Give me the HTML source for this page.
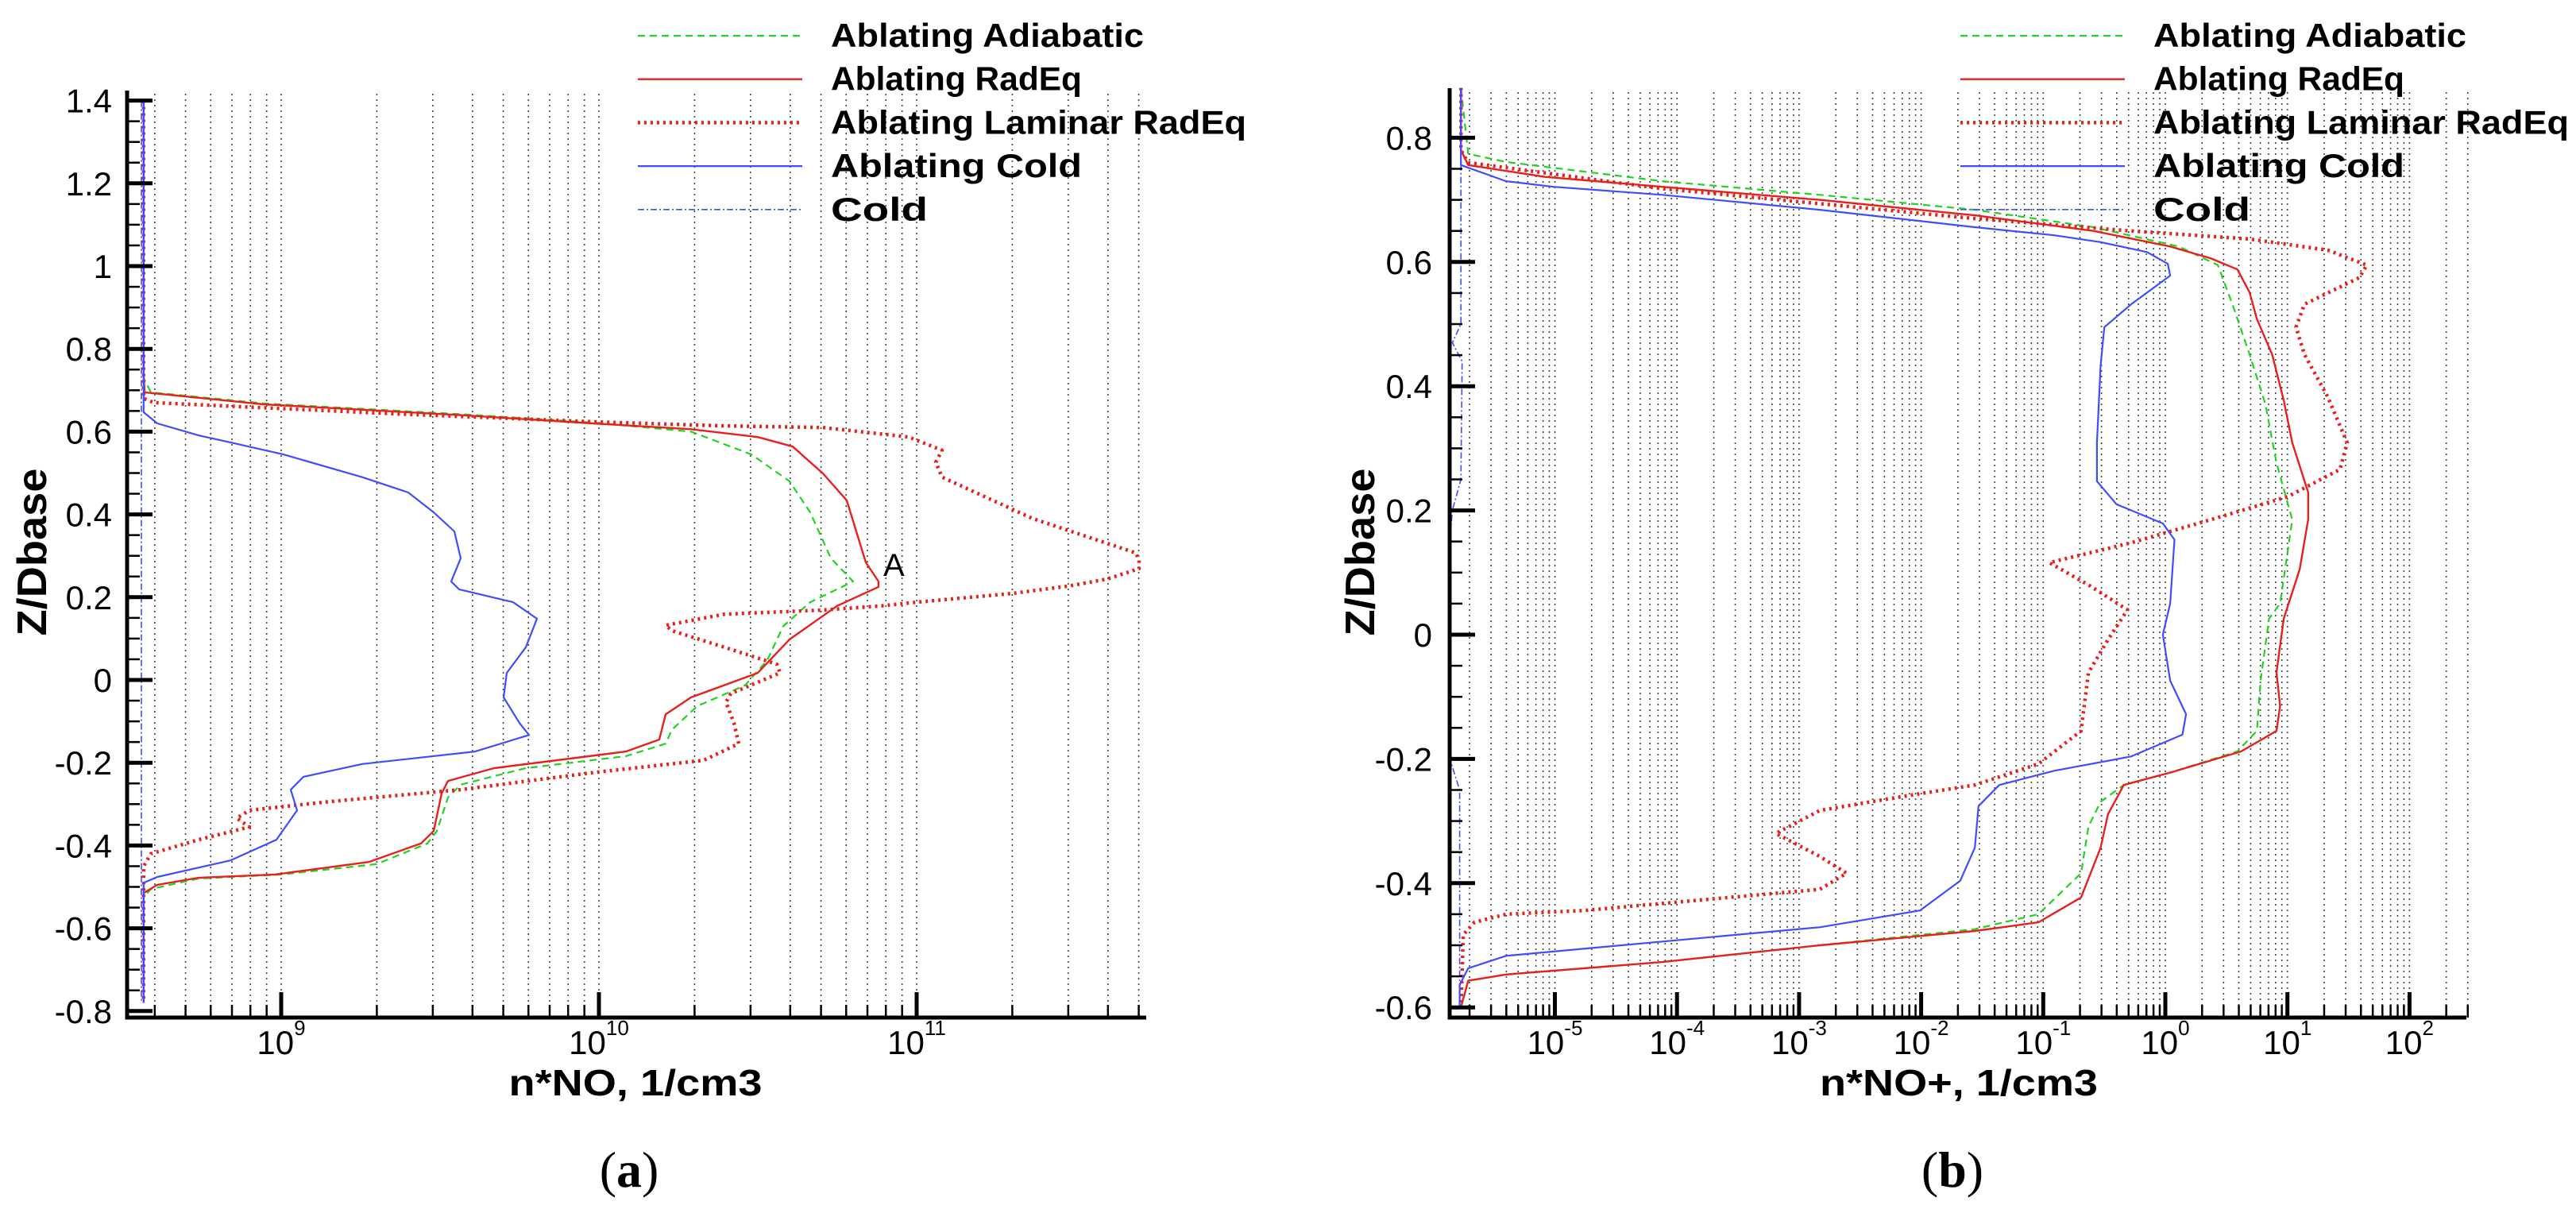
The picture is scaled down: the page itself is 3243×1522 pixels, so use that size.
<!DOCTYPE html>
<html><head><meta charset="utf-8"><style>
html,body{margin:0;padding:0;background:#fff;}
svg{display:block;}
text{font-family:"Liberation Sans",sans-serif;}
</style></head><body>
<svg id="fig" width="3243" height="1522" viewBox="0 0 3243 1522" xmlns="http://www.w3.org/2000/svg">
<rect width="3243" height="1522" fill="#fff"/>
</svg>
<script>
// ---------- Panel (a): n*NO, values stored as log10(n) ----------
const aZAdiabatic = [1.40,0.73,0.695,0.668,0.642,0.622,0.60,0.545,0.48,0.405,0.294,0.238,0.188,0.13,0.048,-0.013,-0.063,-0.12,-0.154,-0.184,-0.213,-0.253,-0.284,-0.365,-0.395,-0.445,-0.47,-0.48,-0.505,-0.526,-0.78];
const aLogAdiabatic = [8.567,8.567,8.59,8.95,9.57,9.98,10.29,10.48,10.60,10.665,10.73,10.80,10.665,10.58,10.53,10.46,10.31,10.23,10.21,10.085,9.77,9.565,9.525,9.49,9.46,9.30,9.0,8.74,8.59,8.567,8.567];
const aZRadEq = [1.40,0.74,0.695,0.666,0.64,0.62,0.606,0.587,0.564,0.499,0.434,0.359,0.284,0.238,0.225,0.179,0.098,0.017,-0.042,-0.083,-0.144,-0.173,-0.213,-0.244,-0.274,-0.365,-0.395,-0.44,-0.47,-0.478,-0.495,-0.515,-0.78];
const aLogRadEq = [8.567,8.567,8.57,8.945,9.565,9.98,10.29,10.50,10.61,10.705,10.78,10.81,10.84,10.88,10.88,10.75,10.60,10.50,10.29,10.21,10.19,10.085,9.67,9.525,9.505,9.48,9.44,9.275,8.98,8.74,8.61,8.567,8.567];
const aZLaminar = [1.40,0.68,0.67,0.643,0.624,0.614,0.61,0.587,0.555,0.526,0.49,0.39,0.307,0.29,0.269,0.244,0.227,0.209,0.188,0.179,0.169,0.159,0.132,0.119,0.079,0.038,0.017,-0.033,-0.054,-0.104,-0.154,-0.194,-0.224,-0.265,-0.294,-0.315,-0.334,-0.355,-0.386,-0.42,-0.45,-0.78];
const aLogLaminar = [8.567,8.567,8.60,9.36,9.98,10.395,10.705,10.975,11.08,11.06,11.08,11.365,11.69,11.70,11.70,11.60,11.48,11.30,11.0,10.89,10.705,10.395,10.21,10.23,10.395,10.56,10.57,10.415,10.40,10.425,10.44,10.33,9.98,9.565,9.15,8.90,8.86,8.90,8.74,8.59,8.567,8.567];
const aZAblCold = [1.40,0.647,0.62,0.591,0.574,0.545,0.49,0.453,0.405,0.359,0.294,0.238,0.219,0.188,0.148,0.079,0.017,-0.042,-0.104,-0.133,-0.173,-0.203,-0.234,-0.265,-0.315,-0.386,-0.436,-0.476,-0.49,-0.78];
const aLogAblCold = [8.567,8.567,8.61,8.74,8.84,9.007,9.255,9.40,9.48,9.545,9.565,9.535,9.56,9.73,9.805,9.77,9.71,9.70,9.75,9.78,9.61,9.255,9.07,9.03,9.05,8.985,8.84,8.61,8.567,8.567];
const aZCold = [1.40,-0.78];
const aLogCold = [8.56,8.56];
const aYTicks = [-0.8,-0.6,-0.4,-0.2,0,0.2,0.4,0.6,0.8,1,1.2,1.4];
const aXDecades = [9,10,11];

// ---------- Panel (b): n*NO+, values stored as log10(n) ----------
const bZAdiabatic = [0.88,0.774,0.761,0.73,0.708,0.684,0.656,0.625,0.595,0.526,0.451,0.371,0.277,0.185,0.05,0.026,-0.074,-0.155,-0.188,-0.222,-0.242,-0.269,-0.309,-0.384,-0.45,-0.474,-0.5,-0.527,-0.547,-0.557,-0.6];
const bLogAdiabatic = [-5.77,-5.71,-5.40,-4.12,-2.83,-1.56,-0.59,0.11,0.43,0.56,0.69,0.82,0.91,1.04,0.94,0.85,0.78,0.75,0.59,0.04,-0.34,-0.53,-0.63,-0.69,-1.04,-1.56,-2.83,-4.12,-5.40,-5.71,-5.77];
const bZRadEq = [0.88,0.78,0.756,0.737,0.721,0.70,0.675,0.65,0.625,0.606,0.588,0.551,0.508,0.451,0.377,0.309,0.229,0.185,0.105,0.026,-0.061,-0.115,-0.155,-0.188,-0.222,-0.242,-0.289,-0.343,-0.423,-0.463,-0.477,-0.5,-0.527,-0.547,-0.557,-0.6];
const bLogRadEq = [-5.77,-5.77,-5.71,-5.08,-4.12,-2.83,-1.56,-0.59,0.04,0.37,0.59,0.69,0.75,0.875,0.97,1.04,1.17,1.17,1.10,0.97,0.91,0.94,0.91,0.62,0.04,-0.34,-0.47,-0.53,-0.69,-1.04,-1.56,-2.83,-4.12,-5.40,-5.71,-5.77];
const bZLaminar = [0.88,0.78,0.76,0.718,0.67,0.65,0.637,0.619,0.595,0.575,0.532,0.495,0.451,0.383,0.309,0.266,0.222,0.185,0.148,0.116,0.079,0.04,-0.008,-0.061,-0.155,-0.208,-0.242,-0.262,-0.283,-0.32,-0.357,-0.384,-0.41,-0.427,-0.444,-0.45,-0.463,-0.483,-0.6];
const bLogLaminar = [-5.77,-5.77,-5.71,-4.12,-1.56,-0.28,0.69,1.33,1.65,1.59,1.14,1.07,1.14,1.33,1.49,1.43,1.0,0.37,-0.28,-0.95,-0.62,-0.31,-0.47,-0.63,-0.69,-1.04,-1.56,-2.20,-2.83,-3.19,-2.83,-2.61,-2.83,-3.80,-4.76,-5.40,-5.66,-5.75,-5.77];
const bZAblCold = [0.88,0.756,0.73,0.721,0.708,0.684,0.656,0.643,0.632,0.616,0.597,0.578,0.532,0.495,0.433,0.309,0.247,0.21,0.179,0.153,0.05,0,-0.074,-0.128,-0.161,-0.196,-0.219,-0.242,-0.276,-0.343,-0.396,-0.444,-0.471,-0.494,-0.517,-0.537,-0.564,-0.6];
const bLogAblCold = [-5.77,-5.77,-5.40,-5.01,-4.12,-2.83,-1.56,-0.91,-0.53,-0.15,0.02,0.04,-0.28,-0.50,-0.53,-0.56,-0.56,-0.40,-0.02,0.075,0.04,-0.02,0.04,0.17,0.14,-0.28,-0.91,-1.36,-1.53,-1.56,-1.68,-2.01,-2.83,-4.12,-5.40,-5.71,-5.78,-5.78];
const bZCold = [0.88,0.5,0.47,0.44,0.25,0.2,0.15,-0.2,-0.25,-0.6];
const bLogCold = [-5.77,-5.77,-5.84,-5.76,-5.77,-5.84,-5.86,-5.86,-5.78,-5.78];
const bYTicks = [-0.6,-0.4,-0.2,0,0.2,0.4,0.6,0.8];
const bXDecades = [-5,-4,-3,-2,-1,0,1,2];

const legendLabels = ["Ablating Adiabatic","Ablating RadEq","Ablating Laminar RadEq","Ablating Cold","Cold"];

const NS = "http://www.w3.org/2000/svg";
const svg = document.getElementById('fig');
function mk(tag, attrs, parent){
  const e = document.createElementNS(NS, tag);
  for (const k in attrs) e.setAttribute(k, attrs[k]);
  (parent||svg).appendChild(e);
  return e;
}
const styles = {
  adiabatic:{stroke:"#1fd41f",w:2.2,dash:"9 6"},
  radeq:{stroke:"#e8201c",w:2.4,dash:""},
  laminar:{stroke:"#e8201c",w:4.5,dash:"3 5"},
  ablcold:{stroke:"#3d4dff",w:2.2,dash:""},
  cold:{stroke:"#3d4dff",w:1.6,dash:"8 3 2 3"}
};

function drawPanel(p){
  const g = mk('g', {});
  
  
  const X = v => p.xAt0 + (v - p.logRef) * p.decade;
  const Y = z => p.yZero - z * p.unit;
  const grid = mk('g', {}, g);
  
  
  for (let d = Math.floor(p.logMin); d <= Math.ceil(p.logMax); d++){
    for (let m = 1; m <= 9; m++){
      const lv = d + Math.log10(m);
      if (lv <= p.logMin + 0.01 || lv > p.logMax) continue;
      const x = X(lv);
      const gl = mk('line', {x1:x, x2:x, y1:p.gridTop, y2:p.axisBottom, stroke:"#444", 'stroke-width':1.6, 'stroke-dasharray':"2 5"}, grid);
      
      
      const tk = mk('line', {x1:x, x2:x, y1:p.axisBottom, y2:p.axisBottom - (m===1?32:16), stroke:"#000", 'stroke-width':m===1?5:2.5}, grid);
      
      
    }
  }
  const ser = [
    ['adiabatic', p.zAd, p.lAd, 'series-ablating-adiabatic'],
    ['radeq', p.zRe, p.lRe, 'series-ablating-radeq'],
    ['laminar', p.zLa, p.lLa, 'series-ablating-laminar-radeq'],
    ['ablcold', p.zAc, p.lAc, 'series-ablating-cold'],
    ['cold', p.zCo, p.lCo, 'series-cold']
  ];
  ser.forEach(s => {
    const st = styles[s[0]];
    const pts = s[1].map((z,i) => X(s[2][i]).toFixed(1) + ',' + Y(z).toFixed(1)).join(' ');
    const pl = mk('polyline', {points:pts, fill:'none', stroke:st.stroke, 'stroke-width':st.w, 'stroke-linejoin':'round'}, g);
    if (st.dash) pl.setAttribute('stroke-dasharray', st.dash);
    
    
  });
  const ax = mk('path', {d:`M${p.axisLeft},${p.axisTop} V${p.axisBottom} H${p.axisRight}`, fill:'none', stroke:'#000', 'stroke-width':5}, g);
  
  
  for (let z = p.yTicks[0]; z <= p.yTicks[p.yTicks.length-1] + 1e-6; z += 0.05){
    const major = Math.abs(Math.round(z*5) - z*5) < 1e-6;
    const yt = mk('line', {x1:p.axisLeft, x2:p.axisLeft + (major?32:16), y1:Y(z), y2:Y(z), stroke:'#000', 'stroke-width':major?5:2.5}, g);
    
    
  }
  p.yTicks.forEach(z => {
    const t = mk('text', {x:p.yLabelRight, y:Y(z)+15, 'text-anchor':'end', 'font-size':42}, g);
    t.textContent = (Math.round(z*10)/10).toString();
    
    
  });
  p.xDecades.forEach(d => {
    const t = mk('text', {x:X(d), y:1327, 'text-anchor':'middle', 'font-size':42}, g);
    const a = mk('tspan', {}, t); a.textContent = '10';
    const b = mk('tspan', {dy:-24, 'font-size':26}, t); b.textContent = d.toString();
    
    
  });
  const xt = mk('text', {x:p.xTitleX, y:1379, 'text-anchor':'middle', 'font-size':46, 'font-weight':'bold', textLength:p.xTitleLen, lengthAdjust:'spacingAndGlyphs'}, g);
  xt.textContent = p.xTitle;
  
  
  const yt = mk('text', {x:0, y:0, 'text-anchor':'middle', 'font-size':52, 'font-weight':'bold', textLength:211, lengthAdjust:'spacingAndGlyphs', transform:`translate(${p.yTitleX},695) rotate(-90)`}, g);
  yt.textContent = 'Z/Dbase';
  
  
  const cap = mk('text', {x:p.xTitleX - 8, y:1494, 'text-anchor':'middle', 'font-size':64, style:'font-family:"Liberation Serif",serif'}, g);
  const c1 = mk('tspan', {}, cap); c1.textContent = '(';
  const c2 = mk('tspan', {'font-weight':'bold'}, cap); c2.textContent = p.caption;
  const c3 = mk('tspan', {}, cap); c3.textContent = ')';
  
  
  const lg = mk('g', {}, g);
  
  
  const keys = ['adiabatic','radeq','laminar','ablcold','cold'];
  const lens = [394, 316, 523, 316, 122];
  legendLabels.forEach((lab, i) => {
    const yy = 45 + i*54.7;
    const st = styles[keys[i]];
    const ln = mk('line', {x1:p.legX, x2:p.legX+207, y1:yy, y2:yy, stroke:st.stroke, 'stroke-width':st.w}, lg);
    if (st.dash) ln.setAttribute('stroke-dasharray', st.dash);
    
    
    const t = mk('text', {x:p.legX+243, y:yy+14, 'font-size':42, 'font-weight':'bold', textLength:lens[i], lengthAdjust:'spacingAndGlyphs'}, lg);
    t.textContent = lab;
    
    
  });
  return {X, Y, g};
}

const pa = drawPanel({
  name:'panel-a-no-chart', xAt0:354, logRef:9, decade:400, logMin:8.515, logMax:11.72,
  yZero:856, unit:521, axisTop:114, axisBottom:1281, axisLeft:160, axisRight:1443, gridTop:118,
  zAd:aZAdiabatic, lAd:aLogAdiabatic, zRe:aZRadEq, lRe:aLogRadEq, zLa:aZLaminar, lLa:aLogLaminar,
  zAc:aZAblCold, lAc:aLogAblCold, zCo:aZCold, lCo:aLogCold,
  yTicks:aYTicks, xDecades:aXDecades, yLabelRight:141, xTitle:'n*NO, 1/cm3', xTitleX:800, xTitleLen:319,
  yTitleX:58, caption:'a', legX:803
});
const aLabel = mk('text', {x:1112, y:725, 'font-size':40}, pa.g);
aLabel.textContent = 'A';



drawPanel({
  name:'panel-b-no-plus-chart', xAt0:2726, logRef:0, decade:153.7, logMin:-5.865, logMax:2.48,
  yZero:799, unit:782, axisTop:111, axisBottom:1281, axisLeft:1825, axisRight:3105, gridTop:116,
  zAd:bZAdiabatic, lAd:bLogAdiabatic, zRe:bZRadEq, lRe:bLogRadEq, zLa:bZLaminar, lLa:bLogLaminar,
  zAc:bZAblCold, lAc:bLogAblCold, zCo:bZCold, lCo:bLogCold,
  yTicks:bYTicks, xDecades:bXDecades, yLabelRight:1803, xTitle:'n*NO+, 1/cm3', xTitleX:2466, xTitleLen:350,
  yTitleX:1730, caption:'b', legX:2468
});
</script>
</body></html>
